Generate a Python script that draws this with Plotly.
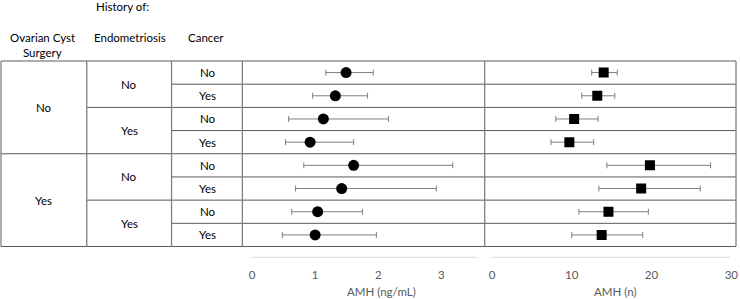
import plotly.graph_objects as go

# ---- data ----
surgery = ["No", "Yes"]
endometriosis = ["No", "Yes", "No", "Yes"]
cancer = ["No", "Yes", "No", "Yes", "No", "Yes", "No", "Yes"]

amh_ng = [1.49, 1.32, 1.13, 0.92, 1.61, 1.42, 1.04, 1.00]
amh_ng_lo = [1.17, 0.96, 0.58, 0.53, 0.82, 0.69, 0.63, 0.48]
amh_ng_hi = [1.92, 1.83, 2.16, 1.61, 3.18, 2.92, 1.75, 1.97]

amh_n = [14.0, 13.2, 10.3, 9.7, 19.8, 18.7, 14.6, 13.75]
amh_n_lo = [12.5, 11.25, 8.0, 7.4, 14.4, 13.4, 10.9, 10.0]
amh_n_hi = [15.7, 15.4, 13.3, 12.75, 27.4, 26.1, 19.6, 18.9]

ticks_ng = [0, 1, 2, 3]
ticks_n = [0, 10, 20, 30]

# ---- layout geometry (pixels) ----
W, H = 740, 299
FONT = "Lato"
TOP, BOT = 61, 246.5
COLS = [1, 87, 172, 243, 486, 738]
nrows = len(cancer)
rowh = (BOT - TOP) / nrows

def px(x):
    return x / W

def py(y):
    return 1 - y / H

ypos = [i + 0.5 for i in range(nrows)]

fig = go.Figure()

fig.add_trace(go.Scatter(
    x=amh_ng, y=ypos, mode="markers",
    marker=dict(symbol="circle", size=11, color="black"),
    error_x=dict(type="data", symmetric=False,
                 array=[h - m for h, m in zip(amh_ng_hi, amh_ng)],
                 arrayminus=[m - l for l, m in zip(amh_ng_lo, amh_ng)],
                 color="#7f7f7f", thickness=1, width=3),
    xaxis="x", yaxis="y", showlegend=False, hoverinfo="skip"))

fig.add_trace(go.Scatter(
    x=amh_n, y=ypos, mode="markers",
    marker=dict(symbol="square", size=10, color="black"),
    error_x=dict(type="data", symmetric=False,
                 array=[h - m for h, m in zip(amh_n_hi, amh_n)],
                 arrayminus=[m - l for l, m in zip(amh_n_lo, amh_n)],
                 color="#7f7f7f", thickness=1, width=3),
    xaxis="x2", yaxis="y", showlegend=False, hoverinfo="skip"))

shapes = []
LC = "#595959"
def hline(x0, x1, y, color=LC):
    shapes.append(dict(type="line", xref="paper", yref="paper",
                       x0=px(x0), x1=px(x1), y0=py(y), y1=py(y),
                       line=dict(color=color, width=1)))
def vline(x, y0, y1, color="#808080"):
    shapes.append(dict(type="line", xref="paper", yref="paper",
                       x0=px(x), x1=px(x), y0=py(y0), y1=py(y1),
                       line=dict(color=color, width=1.3)))

# horizontal lines
hline(COLS[0], COLS[-1], TOP)
hline(COLS[0], COLS[-1], BOT)
for k in range(1, nrows):
    y = TOP + k * rowh
    if k % 4 == 0:
        hline(COLS[0], COLS[-1], y)
    elif k % 2 == 0:
        hline(COLS[1], COLS[-1], y)
    else:
        hline(COLS[2], COLS[-1], y)
for x in COLS:
    vline(x, TOP, BOT)

ann = []
def text(x, y, s, size=11.5, color="black"):
    ann.append(dict(xref="paper", yref="paper", x=px(x), y=py(y), text=s,
                    showarrow=False, xanchor="center", yanchor="middle",
                    font=dict(family=FONT, size=size, color=color)))

text(123, 7, "History of:")
text(43, 37, "Ovarian Cyst")
text(43, 52, "Surgery")
text(130, 37, "Endometriosis")
text(207, 37, "Cancer")

for i, s in enumerate(surgery):
    text((COLS[0] + COLS[1]) / 2, TOP + (i * 4 + 2) * rowh, s)
for i, s in enumerate(endometriosis):
    text((COLS[1] + COLS[2]) / 2, TOP + (i * 2 + 1) * rowh, s)
for i, s in enumerate(cancer):
    text((COLS[2] + COLS[3]) / 2 + 1, TOP + (i + 0.5) * rowh, s)

# axis baselines
AXY = 257.3
shapes.append(dict(type="line", xref="x", yref="paper", x0=0, x1=3.56,
                   y0=py(AXY), y1=py(AXY), line=dict(color="#d9d9d9", width=1)))
shapes.append(dict(type="line", xref="x2", yref="paper", x0=0, x1=29.9,
                   y0=py(AXY), y1=py(AXY), line=dict(color="#d9d9d9", width=1)))

text(383, 291, "AMH (ng/mL)", color="#595959")
text(617, 291, "AMH (n)", color="#595959")

x1_lo = -(252.7 - 243) / 63.3
x1_hi = (486 - 252.7) / 63.3
x2_lo = -(493.3 - 486) / 8.0
x2_hi = (738 - 493.3) / 8.0

axfont = dict(family=FONT, size=11.5, color="#595959")
fig.update_layout(
    width=W, height=H, margin=dict(l=0, r=0, t=0, b=0),
    paper_bgcolor="white", plot_bgcolor="white",
    xaxis=dict(domain=[px(243), px(486)], range=[x1_lo, x1_hi],
               anchor="free", position=py(AXY), tickvals=ticks_ng,
               showgrid=False, zeroline=False, showline=False,
               ticks="", tickfont=axfont, ticklabelstandoff=9,
               ticklabeloverflow="allow"),
    xaxis2=dict(domain=[px(486), px(738)], range=[x2_lo, x2_hi],
                anchor="free", position=py(AXY), tickvals=ticks_n,
                showgrid=False, zeroline=False, showline=False,
                ticks="", tickfont=axfont, ticklabelstandoff=9,
                ticklabeloverflow="allow"),
    yaxis=dict(domain=[py(BOT), py(TOP)], range=[nrows, 0],
               showgrid=False, zeroline=False, showticklabels=False,
               showline=False),
    shapes=shapes, annotations=ann,
)

fig.write_html("out.html", config={"displayModeBar": False},
               post_script="document.body.style.margin='0';document.body.style.overflow='hidden';")
